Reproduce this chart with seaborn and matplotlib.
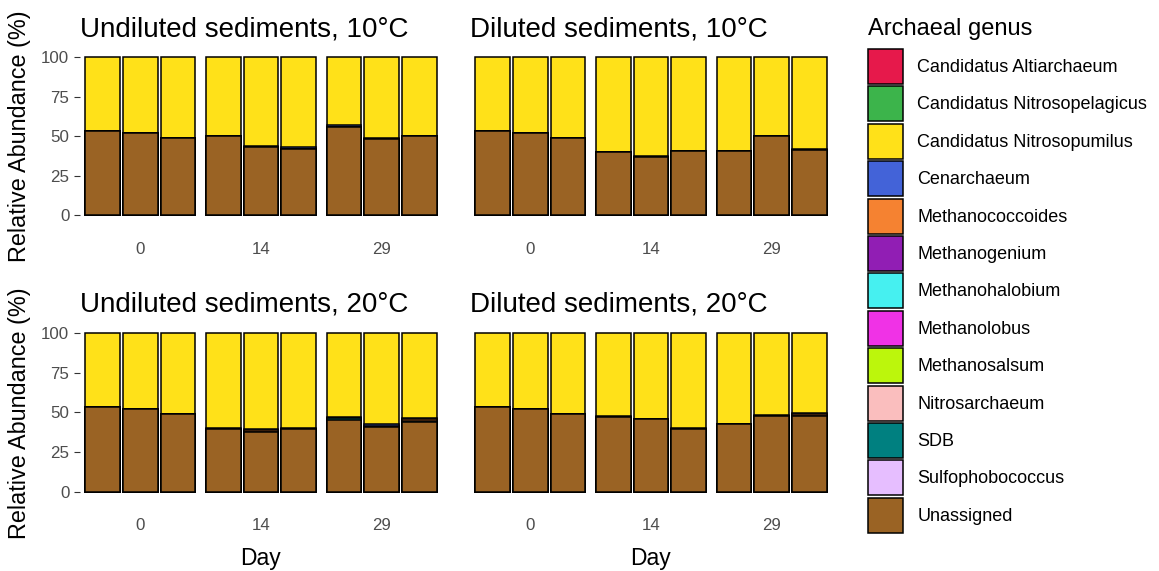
import matplotlib
matplotlib.use("Agg")
import matplotlib.pyplot as plt
from matplotlib.patches import Patch
import pandas as pd
import seaborn as sns

# ---- data -----------------------------------------------------------------
PANELS = ["Undiluted sediments, 10°C", "Diluted sediments, 10°C",
          "Undiluted sediments, 20°C", "Diluted sediments, 20°C"]
DAYS = ["0", "14", "29"]
REPLICATES = ["A", "B", "C"]

GENERA = ["Candidatus Altiarchaeum", "Candidatus Nitrosopelagicus",
          "Candidatus Nitrosopumilus", "Cenarchaeum", "Methanococcoides",
          "Methanogenium", "Methanohalobium", "Methanolobus", "Methanosalsum",
          "Nitrosarchaeum", "SDB", "Sulfophobococcus", "Unassigned"]
GENUS_COLORS = ["#E6194B", "#3CB44B", "#FFE119", "#4363D8", "#F58231",
                "#911EB4", "#46F0F0", "#F032E6", "#BCF60C", "#FABEBE",
                "#008080", "#E6BEFF", "#9A6324"]

# Relative abundance (%) per sample: panel by panel, days 0/14/29, three replicates each
UNASSIGNED = [
    53.7, 52.1, 49.0, 50.1, 43.5, 42.0, 55.9, 48.1, 50.2,
    53.7, 52.1, 49.0, 39.9, 37.2, 40.6, 40.6, 50.3, 41.4,
    53.7, 52.1, 49.0, 39.7, 37.9, 39.7, 45.4, 40.5, 44.1,
    53.7, 52.1, 49.0, 47.0, 45.6, 39.2, 42.9, 48.0, 48.0,
]
SDB = [
    0, 0, 0, 0, 0, 0, 0, 0, 0,
    0, 0, 0, 0, 0, 0, 0, 0, 0,
    0, 0, 0, 0, 0, 0, 1.0, 0, 0.7,
    0, 0, 0, 0, 0, 0, 0, 0, 0,
]
METHANOCOCCOIDES = [
    0, 0, 0, 0, 0, 0, 0, 0, 0,
    0, 0, 0, 0, 0, 0, 0, 0, 0,
    0, 0, 0, 0, 0.9, 0, 0, 0.9, 0.9,
    0, 0, 0, 0, 0, 0, 0, 0, 0.9,
]
CENARCHAEUM = [
    0, 0, 0, 0, 0.4, 1.0, 1.3, 1.0, 0,
    0, 0, 0, 0, 0.6, 0, 0, 0, 0.6,
    0, 0, 0, 0.6, 1.0, 0.6, 0.9, 1.0, 0.7,
    0, 0, 0, 0.6, 0, 0.8, 0, 0.6, 1.0,
]
NITROSOPUMILUS = [
    46.3, 47.9, 51.0, 49.9, 56.1, 57.0, 42.8, 50.9, 49.8,
    46.3, 47.9, 51.0, 60.1, 62.2, 59.4, 59.4, 49.7, 58.0,
    46.3, 47.9, 51.0, 59.7, 60.2, 59.7, 52.7, 57.6, 53.6,
    46.3, 47.9, 51.0, 52.4, 54.4, 60.0, 57.1, 51.4, 50.1,
]

SERIES = {
    "Unassigned": UNASSIGNED,
    "SDB": SDB,
    "Methanococcoides": METHANOCOCCOIDES,
    "Cenarchaeum": CENARCHAEUM,
    "Candidatus Nitrosopumilus": NITROSOPUMILUS,
}

# ---- long table with stacked tops --------------------------------------------
rows = []
for genus, values in SERIES.items():
    for i, v in enumerate(values):
        rows.append({"panel": PANELS[i // 9], "day": DAYS[(i % 9) // 3],
                     "rep": REPLICATES[i % 3], "genus": genus, "value": v})
df = pd.DataFrame(rows)
stack_rank = {g: k for k, g in enumerate(reversed(GENERA))}  # 0 = bottom of stack
df["rank"] = df["genus"].map(stack_rank)
df = df.sort_values(["panel", "day", "rep", "rank"])
df["top"] = df.groupby(["panel", "day", "rep"])["value"].cumsum()
color_of = dict(zip(GENERA, GENUS_COLORS))

# ---- figure -------------------------------------------------------------------
sns.set_style("white")
plt.rcParams["font.family"] = ["Liberation Sans", "DejaVu Sans"]
plt.rcParams["text.color"] = "black"

W, H = 1159, 571
fig = plt.figure(figsize=(W / 100, H / 100), dpi=100)

def frac_box(left, top, right, bottom):
    return [left / W, 1 - bottom / H, (right - left) / W, (bottom - top) / H]

col_x = [(80, 442), (470, 832)]
row_y = [(55.9, 216.9), (331.7, 493.1)]
title_base = [36.5, 312.0]
ylab_center = [136, 413]

for p, panel in enumerate(PANELS):
    r, c = divmod(p, 2)
    x0, x1 = col_x[c]
    y0, y1 = row_y[r]
    ax = fig.add_axes(frac_box(x0, y0, x1, y1))
    sub_panel = df[df["panel"] == panel]
    # draw cumulative layers from the top of the stack downwards
    for genus in GENERA:
        sub = sub_panel[sub_panel["genus"] == genus]
        if sub.empty:
            continue
        sns.barplot(data=sub, x="day", y="top", hue="rep", order=DAYS,
                    hue_order=REPLICATES, palette=[color_of[genus]] * 3,
                    width=0.936, gap=0.083, saturation=1, errorbar=None,
                    edgecolor="black", linewidth=1.1, legend=False, ax=ax)
    ax.set_xlim(-0.5, 2.5)
    ax.set_ylim(-1, 101)
    ax.set_xlabel("")
    ax.set_ylabel("")
    for s in ax.spines.values():
        s.set_visible(False)
    ax.tick_params(axis="x", length=0, pad=18, labelsize=12.2, labelcolor="#4D4D4D")
    if c == 0:
        ax.set_yticks([0, 25, 50, 75, 100])
        ax.tick_params(axis="y", left=True, length=4.2, width=0.8, color="#333333",
                       pad=3.5, labelsize=12.2, labelcolor="#4D4D4D")
        fig.text(20 / W, 1 - ylab_center[r] / H, "Relative Abundance (%)",
                 rotation=90, ha="center", va="center", fontsize=16.8)
    else:
        ax.set_yticks([])
    fig.text(x0 / W, 1 - title_base[r] / H, panel, ha="left", va="baseline",
             fontsize=20)
    if r == 1:
        fig.text((x0 + x1) / 2 / W, 1 - 558 / H, "Day", ha="center",
                 va="center", fontsize=16.5)

# legend: title and keys
fig.text(868 / W, 1 - 35 / H, "Archaeal genus", ha="left", va="baseline",
         fontsize=17)
handles = [Patch(facecolor=col, edgecolor="black", linewidth=1.1, label=g)
           for g, col in zip(GENERA, GENUS_COLORS)]
fig.legend(handles=handles, loc="upper left",
           bbox_to_anchor=(868 / W, 1 - 49 / H), frameon=False, fontsize=13,
           handlelength=1.94, handleheight=2.61, handletextpad=0.8,
           labelspacing=0.13, borderpad=0, borderaxespad=0, alignment="left")

fig.savefig("out.png", dpi=100, facecolor="white")
